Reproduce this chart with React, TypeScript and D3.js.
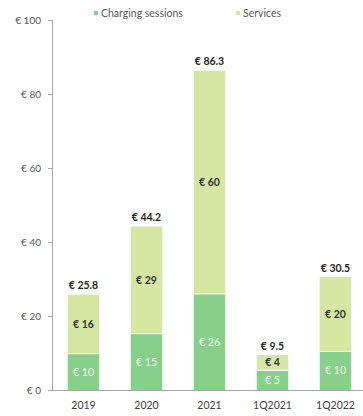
import React from "react";
import * as d3 from "d3";

const categories = ["2019", "2020", "2021", "1Q2021", "1Q2022"];
const charging = [9.8, 15.2, 26.0, 5.3, 10.4];
const services = [16.0, 29.0, 60.3, 4.2, 20.1];
const yTicks = [0, 20, 40, 60, 80, 100];
const seriesNames = ["Charging sessions", "Services"];
const colors = ["#86d08a", "#d6e7a4"];

const W = 363;
const H = 416;
const FONT = "Lato, 'Open Sans', sans-serif";

export default function App() {
  const x = d3.scaleBand<string>().domain(categories).range([52, 367]).paddingInner(0.5).paddingOuter(0.25);
  const y = d3.scaleLinear().domain([0, 100]).range([390, 20]);
  const fmt0 = d3.format(".0f");
  const fmt1 = (v: number) => d3.format(".1f")(v).replace(/\.0$/, "");
  const totals = categories.map((_, i) => charging[i] + services[i]);
  const bw = x.bandwidth();

  return (
    <svg width={W} height={H} style={{ position: "absolute", left: 0, top: 0, background: "#fff" }} fontFamily={FONT}>
      {/* legend */}
      <g fontSize={10.5} fill="#595959">
        <rect x={94} y={11} width={4} height={4} fill={colors[0]} />
        <text x={101} y={17}>{seriesNames[0]}</text>
        <rect x={236} y={11} width={4} height={4} fill={colors[1]} />
        <text x={243} y={17}>{seriesNames[1]}</text>
      </g>
      {/* y axis */}
      <line x1={52.5} x2={52.5} y1={y(100)} y2={y(0)} stroke="#a6a6a6" strokeWidth={1} />
      {yTicks.map((t) => (
        <g key={t}>
          <line x1={48} x2={52.5} y1={y(t) + 0.5} y2={y(t) + 0.5} stroke="#a6a6a6" />
          <text x={41} y={y(t)} dy="0.35em" textAnchor="end" fontSize={10} fill="#595959">
            {"€ " + t}
          </text>
        </g>
      ))}
      {/* bars */}
      {categories.map((c, i) => {
        const x0 = x(c)!;
        const c0 = y(0), c1 = y(charging[i]), s1 = y(totals[i]);
        return (
          <g key={c}>
            <rect x={x0} y={c1} width={bw} height={c0 - c1} fill={colors[0]} />
            <rect x={x0} y={s1} width={bw} height={c1 - s1} fill={colors[1]} />
            <line x1={x0} x2={x0 + bw} y1={c1} y2={c1} stroke="#f4f8ea" strokeWidth={1.2} />
            <text x={x0 + bw / 2} y={(c0 + c1) / 2} dy="0.35em" textAnchor="middle" fontSize={10.5} fill="#f2fbf2">
              {"€ " + fmt0(charging[i])}
            </text>
            <text x={x0 + bw / 2} y={(c1 + s1) / 2} dy="0.35em" textAnchor="middle" fontSize={10.5} fontWeight="bold" fill="#333">
              {"€ " + fmt0(services[i])}
            </text>
            <text x={x0 + bw / 2} y={s1 - 9} dy="0.35em" textAnchor="middle" fontSize={10.5} fontWeight="bold" fill="#262626">
              {"€ " + fmt1(totals[i])}
            </text>
            <text x={x0 + bw / 2} y={405} dy="0.35em" textAnchor="middle" fontSize={10.5} fill="#404040">
              {c}
            </text>
          </g>
        );
      })}
      {/* baseline */}
      <line x1={52} x2={363} y1={y(0) + 0.5} y2={y(0) + 0.5} stroke="#a6a6a6" strokeWidth={1} />
    </svg>
  );
}
